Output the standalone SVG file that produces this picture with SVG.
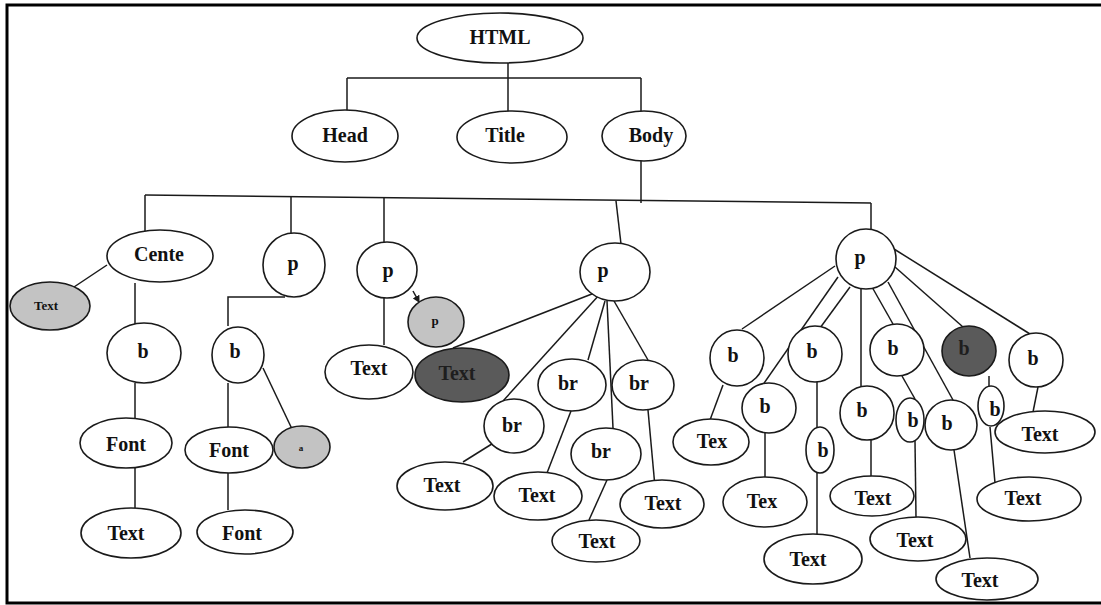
<svg xmlns="http://www.w3.org/2000/svg" width="1101" height="605" viewBox="0 0 1101 605">
  <style>
    .n ellipse { fill: #ffffff; stroke: #1a1a1a; stroke-width: 1.6; }
    .n.light ellipse { fill: #c3c3c3; }
    .n.dark ellipse { fill: #5a5a5a; }
    .n text { font-family: "Liberation Serif", "Times New Roman", serif; font-weight: bold; font-size: 20px; fill: #111111; text-anchor: middle; }
    .n.dark text { fill: #1e1e1e; }
    .n text.sm { font-size: 13px; }
    .n text.xs { font-size: 9px; }
    #edges line, #edges polyline { stroke: #1a1a1a; stroke-width: 1.5; fill: none; }
    .frame { fill: none; stroke: #000000; stroke-width: 3; }
  </style>
  <defs>
    <marker id="tip" viewBox="0 0 6 6" refX="5" refY="3" markerWidth="5" markerHeight="5" orient="auto">
      <path d="M0,0 L6,3 L0,6 z" fill="#1a1a1a"/>
    </marker>
  </defs>

  <rect x="0" y="0" width="1101" height="605" fill="#ffffff"/>
  <path class="frame" d="M1101,5 H7 V603 H1101"/>

  <!-- connectors -->
  <g id="edges">
    <!-- HTML to head, title, body -->
    <line x1="508" y1="63" x2="508" y2="78"/>
    <line x1="347" y1="78" x2="641" y2="78"/>
    <line x1="347" y1="78" x2="347" y2="111"/>
    <line x1="508" y1="78" x2="508" y2="112"/>
    <line x1="641" y1="78" x2="641" y2="112"/>
    <!-- body bus -->
    <line x1="641" y1="161" x2="641" y2="203"/>
    <line x1="145" y1="195" x2="871" y2="203"/>
    <line x1="145" y1="195" x2="145" y2="231"/>
    <line x1="291" y1="197" x2="291" y2="234"/>
    <line x1="384" y1="198" x2="384" y2="243"/>
    <line x1="616" y1="201" x2="621" y2="244"/>
    <line x1="871" y1="203" x2="871" y2="231"/>
    <!-- center subtree -->
    <line x1="107" y1="265" x2="74" y2="287"/>
    <line x1="135" y1="283" x2="135" y2="324"/>
    <line x1="135" y1="383" x2="135" y2="419"/>
    <line x1="135" y1="468" x2="135" y2="508"/>
    <!-- second p subtree -->
    <polyline points="285,297 228,297 228,326"/>
    <line x1="228" y1="383" x2="228" y2="427"/>
    <line x1="263" y1="368" x2="292" y2="429"/>
    <line x1="228" y1="471" x2="228" y2="510"/>
    <!-- third p subtree -->
    <line x1="384" y1="297" x2="384" y2="345"/>
    <line x1="413" y1="291" x2="419" y2="302" marker-end="url(#tip)"/>
    <line x1="453" y1="348" x2="597" y2="292"/>
    <!-- fourth p subtree -->
    <line x1="600" y1="294" x2="503" y2="401"/>
    <line x1="605" y1="301" x2="588" y2="360"/>
    <line x1="614" y1="301" x2="648" y2="360"/>
    <line x1="607" y1="301" x2="613" y2="428"/>
    <line x1="495" y1="442" x2="463" y2="462"/>
    <line x1="571" y1="411" x2="547" y2="473"/>
    <line x1="607" y1="480" x2="589" y2="520"/>
    <line x1="648" y1="410" x2="655" y2="487"/>
    <!-- fifth p subtree -->
    <line x1="835" y1="266" x2="742" y2="329"/>
    <line x1="850" y1="287" x2="820" y2="328"/>
    <line x1="838" y1="277" x2="762" y2="386"/>
    <line x1="861" y1="289" x2="861" y2="386"/>
    <line x1="872" y1="287" x2="893" y2="324"/>
    <line x1="888" y1="282" x2="953" y2="400"/>
    <line x1="895" y1="267" x2="963" y2="327"/>
    <line x1="894" y1="249" x2="1030" y2="334"/>
    <line x1="723" y1="385" x2="710" y2="420"/>
    <line x1="765" y1="432" x2="765" y2="477"/>
    <line x1="817" y1="382" x2="817" y2="428"/>
    <line x1="817" y1="473" x2="817" y2="535"/>
    <line x1="871" y1="440" x2="871" y2="476"/>
    <line x1="902" y1="376" x2="915" y2="399"/>
    <line x1="915" y1="441" x2="916" y2="517"/>
    <line x1="954" y1="450" x2="970" y2="558"/>
    <line x1="989" y1="376" x2="989" y2="387"/>
    <line x1="990" y1="427" x2="995" y2="483"/>
    <line x1="1038" y1="387" x2="1033" y2="412"/>
  </g>

  <!-- top levels -->
  <g id="n-html" class="n"><ellipse cx="500" cy="38" rx="83" ry="25"/><text x="500" y="44">HTML</text></g>
  <g id="n-head" class="n"><ellipse cx="345" cy="136" rx="53" ry="26"/><text x="345" y="142">Head</text></g>
  <g id="n-title" class="n"><ellipse cx="512" cy="137" rx="55" ry="26"/><text x="505" y="142">Title</text></g>
  <g id="n-body" class="n"><ellipse cx="644" cy="136" rx="42" ry="25"/><text x="651" y="142">Body</text></g>

  <!-- center branch -->
  <g id="n-cente" class="n"><ellipse cx="160" cy="256" rx="53" ry="26"/><text x="159" y="261">Cente</text></g>
  <g id="n-cente-text" class="n light"><ellipse cx="50" cy="306" rx="40" ry="24"/><text class="sm" x="46" y="310">Text</text></g>
  <g id="n-cente-b" class="n"><ellipse cx="144" cy="353" rx="37" ry="30"/><text x="143" y="358">b</text></g>
  <g id="n-cente-font" class="n"><ellipse cx="126" cy="443" rx="46" ry="25"/><text x="126" y="451">Font</text></g>
  <g id="n-cente-leaf" class="n"><ellipse cx="131" cy="533" rx="50" ry="25"/><text x="126" y="540">Text</text></g>

  <!-- second p branch -->
  <g id="n-p2" class="n"><ellipse cx="294" cy="265" rx="31" ry="32"/><text x="293" y="270">p</text></g>
  <g id="n-p2-b" class="n"><ellipse cx="238" cy="355" rx="26" ry="28"/><text x="235" y="358">b</text></g>
  <g id="n-p2-font" class="n"><ellipse cx="229" cy="450" rx="44" ry="23"/><text x="229" y="457">Font</text></g>
  <g id="n-p2-a" class="n light"><ellipse cx="302" cy="447" rx="28" ry="21"/><text class="xs" x="301" y="451">a</text></g>
  <g id="n-p2-font2" class="n"><ellipse cx="245" cy="532" rx="48" ry="22"/><text x="242" y="540">Font</text></g>

  <!-- third p branch -->
  <g id="n-p3" class="n"><ellipse cx="387" cy="270" rx="30" ry="28"/><text x="388" y="277">p</text></g>
  <g id="n-p3-p" class="n light"><ellipse cx="436" cy="322" rx="28" ry="25"/><text class="sm" x="435" y="325">p</text></g>
  <g id="n-p3-text" class="n"><ellipse cx="369" cy="372" rx="44" ry="27"/><text x="369" y="375">Text</text></g>
  <g id="n-p3-dark" class="n dark"><ellipse cx="462" cy="375" rx="47" ry="27"/><text x="457" y="380">Text</text></g>

  <!-- fourth p branch -->
  <g id="n-p4" class="n"><ellipse cx="615" cy="272" rx="35" ry="29"/><text x="603" y="277">p</text></g>
  <g id="n-br1" class="n"><ellipse cx="514" cy="426" rx="30" ry="27"/><text x="512" y="432">br</text></g>
  <g id="n-br2" class="n"><ellipse cx="572" cy="385" rx="34" ry="26"/><text x="568" y="390">br</text></g>
  <g id="n-br3" class="n"><ellipse cx="606" cy="454" rx="35" ry="26"/><text x="601" y="458">br</text></g>
  <g id="n-br4" class="n"><ellipse cx="643" cy="385" rx="31" ry="25"/><text x="639" y="390">br</text></g>
  <g id="n-br1-text" class="n"><ellipse cx="445" cy="486" rx="48" ry="24"/><text x="442" y="492">Text</text></g>
  <g id="n-br2-text" class="n"><ellipse cx="538" cy="496" rx="44" ry="24"/><text x="537" y="502">Text</text></g>
  <g id="n-br3-text" class="n"><ellipse cx="596" cy="541" rx="44" ry="21"/><text x="597" y="548">Text</text></g>
  <g id="n-br4-text" class="n"><ellipse cx="662" cy="504" rx="42" ry="24"/><text x="663" y="510">Text</text></g>

  <!-- fifth p branch -->
  <g id="n-p5" class="n"><ellipse cx="866" cy="259" rx="30" ry="30"/><text x="860" y="264">p</text></g>
  <g id="n-b1" class="n"><ellipse cx="737" cy="358" rx="27" ry="28"/><text x="733" y="362">b</text></g>
  <g id="n-b2" class="n"><ellipse cx="815" cy="354" rx="27" ry="28"/><text x="812" y="358">b</text></g>
  <g id="n-b3" class="n"><ellipse cx="769" cy="408" rx="27" ry="25"/><text x="765" y="413">b</text></g>
  <g id="n-b4" class="n"><ellipse cx="897" cy="350" rx="27" ry="26"/><text x="893" y="355">b</text></g>
  <g id="n-b5" class="n dark"><ellipse cx="969" cy="351" rx="27" ry="25"/><text x="964" y="355">b</text></g>
  <g id="n-b6" class="n"><ellipse cx="1036" cy="360" rx="27" ry="27"/><text x="1033" y="365">b</text></g>
  <g id="n-b7" class="n"><ellipse cx="867" cy="413" rx="27" ry="27"/><text x="862" y="417">b</text></g>
  <g id="n-b8" class="n"><ellipse cx="951" cy="425" rx="26" ry="25"/><text x="947" y="430">b</text></g>
  <g id="n-b2-b" class="n"><ellipse cx="820" cy="450" rx="14" ry="23"/><text x="823" y="457">b</text></g>
  <g id="n-b4-b" class="n"><ellipse cx="910" cy="420" rx="14" ry="22"/><text x="913" y="427">b</text></g>
  <g id="n-b5-b" class="n"><ellipse cx="991" cy="406" rx="13" ry="20"/><text x="995" y="416">b</text></g>
  <g id="n-b1-tex" class="n"><ellipse cx="711" cy="442" rx="38" ry="23"/><text x="712" y="448">Tex</text></g>
  <g id="n-b3-tex" class="n"><ellipse cx="765" cy="502" rx="42" ry="25"/><text x="762" y="508">Tex</text></g>
  <g id="n-b2-text" class="n"><ellipse cx="813" cy="559" rx="49" ry="25"/><text x="808" y="566">Text</text></g>
  <g id="n-b7-text" class="n"><ellipse cx="872" cy="496" rx="42" ry="20"/><text x="873" y="505">Text</text></g>
  <g id="n-b4-text" class="n"><ellipse cx="918" cy="539" rx="48" ry="22"/><text x="915" y="547">Text</text></g>
  <g id="n-b8-text" class="n"><ellipse cx="987" cy="579" rx="51" ry="21"/><text x="980" y="587">Text</text></g>
  <g id="n-b5-text" class="n"><ellipse cx="1029" cy="499" rx="52" ry="22"/><text x="1023" y="505">Text</text></g>
  <g id="n-b6-text" class="n"><ellipse cx="1045" cy="432" rx="50" ry="21"/><text x="1040" y="441">Text</text></g>
</svg>
